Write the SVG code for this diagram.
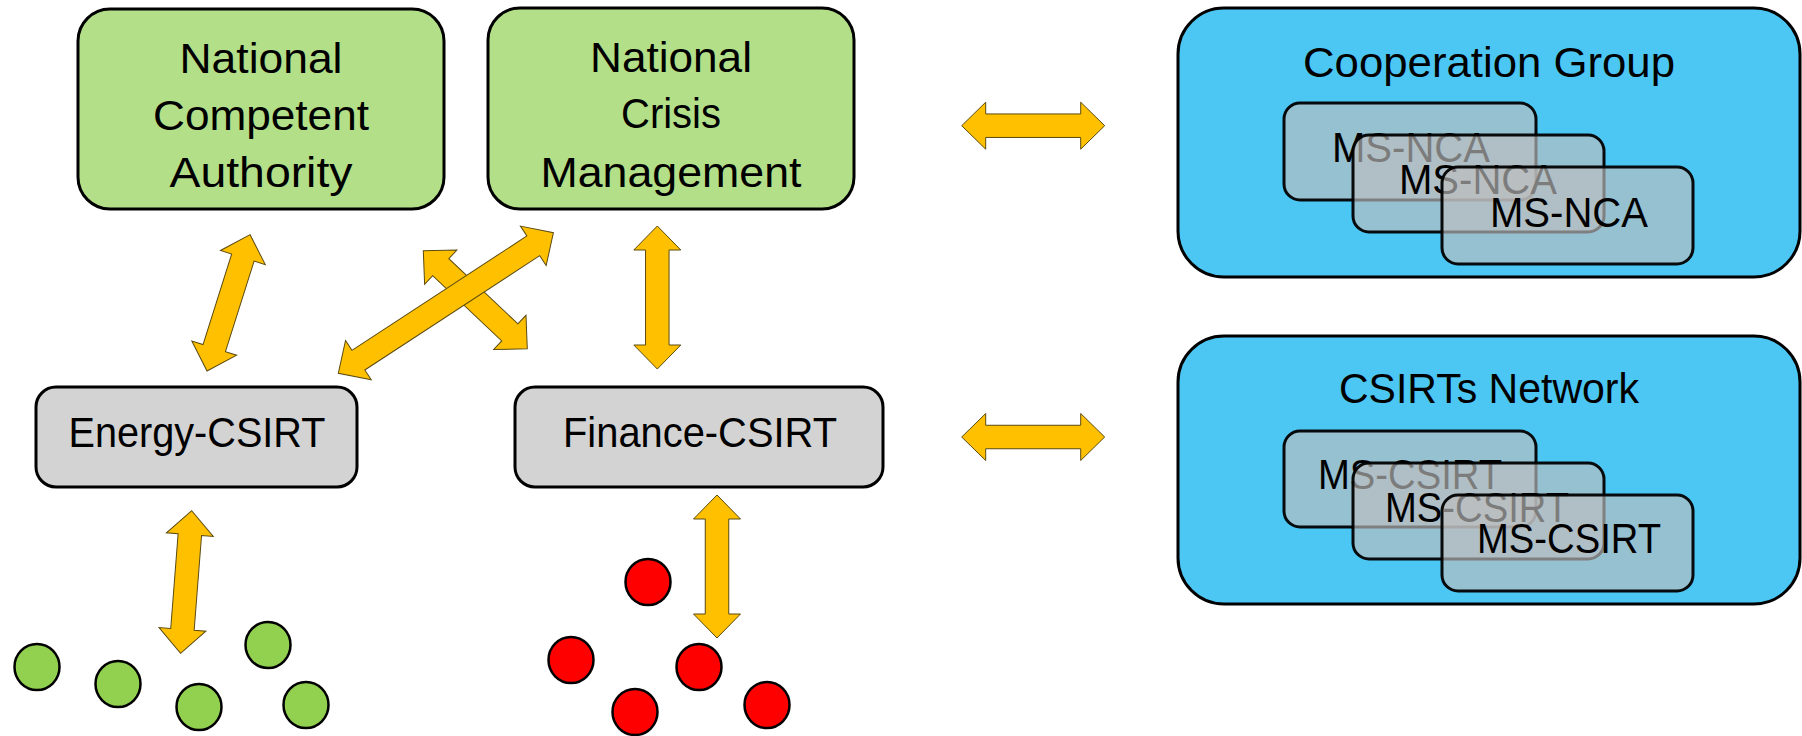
<svg xmlns="http://www.w3.org/2000/svg" width="1802" height="736" viewBox="0 0 1802 736">
<style>
.t{font-family:"Liberation Sans",Arial,sans-serif;font-size:42px;fill:#000;text-anchor:middle}
.green{fill:#B3DF88;stroke:#000;stroke-width:3}
.gray{fill:#D3D3D3;stroke:#000;stroke-width:3}
.blue{fill:#4CC7F4;stroke:#000;stroke-width:3}
.ms{fill:#BFBFBF;fill-opacity:0.65;stroke:#000;stroke-width:3;stroke-opacity:0.95}
.arr{fill:#FFC000;stroke:#5A4A10;stroke-width:1}
.gc{fill:#92D050;stroke:#000;stroke-width:2.5}
.rc{fill:#FF0000;stroke:#000;stroke-width:2.5}
</style>
<defs>
<path id="a143" d="M0,0 L24,-23.5 L24,-11.75 L119,-11.75 L119,-23.5 L143,0 L119,23.5 L119,11.75 L24,11.75 L24,23.5 Z"/>
<path id="a257" d="M0,0 L24,-23.5 L24,-11.75 L233,-11.75 L233,-23.5 L257,0 L233,23.5 L233,11.75 L24,11.75 L24,23.5 Z"/>
</defs>
<rect width="1802" height="736" fill="#fff"/>

<g id="nca">
<rect class="green" x="78" y="9" width="366" height="200" rx="32"/>
<text class="t" x="261" y="73" textLength="163" lengthAdjust="spacingAndGlyphs">National</text>
<text class="t" x="261" y="130" textLength="216" lengthAdjust="spacingAndGlyphs">Competent</text>
<text class="t" x="261" y="187" textLength="183" lengthAdjust="spacingAndGlyphs">Authority</text>
</g>
<g id="ncm">
<rect class="green" x="488" y="8" width="366" height="201" rx="32"/>
<text class="t" x="671" y="72" textLength="162" lengthAdjust="spacingAndGlyphs">National</text>
<text class="t" x="671" y="128" textLength="100" lengthAdjust="spacingAndGlyphs">Crisis</text>
<text class="t" x="671" y="187" textLength="261" lengthAdjust="spacingAndGlyphs">Management</text>
</g>
<g id="energy">
<rect class="gray" x="36" y="387" width="321" height="100" rx="20"/>
<text class="t" x="197" y="447" textLength="257" lengthAdjust="spacingAndGlyphs">Energy-CSIRT</text>
</g>
<g id="finance">
<rect class="gray" x="515" y="387" width="368" height="100" rx="20"/>
<text class="t" x="700" y="447" textLength="274" lengthAdjust="spacingAndGlyphs">Finance-CSIRT</text>
</g>

<g id="cooperation-group">
<rect class="blue" x="1178" y="8" width="622" height="269" rx="46"/>
<text class="t" x="1489" y="77" textLength="372" lengthAdjust="spacingAndGlyphs">Cooperation Group</text>
<g id="msnca1">
<rect class="ms" x="1284" y="103" width="252" height="97" rx="16"/>
<text class="t" x="1411" y="162" textLength="158" lengthAdjust="spacingAndGlyphs">MS-NCA</text>
</g>
<g id="msnca2">
<rect class="ms" x="1353" y="135" width="251" height="97" rx="16"/>
<text class="t" x="1478" y="194" textLength="158" lengthAdjust="spacingAndGlyphs">MS-NCA</text>
</g>
<g id="msnca3">
<rect class="ms" x="1442" y="167" width="251" height="97" rx="16"/>
<text class="t" x="1569" y="227" textLength="158" lengthAdjust="spacingAndGlyphs">MS-NCA</text>
</g>
</g>

<g id="csirts-network">
<rect class="blue" x="1178" y="336" width="622" height="268" rx="46"/>
<text class="t" x="1489" y="403" textLength="300" lengthAdjust="spacingAndGlyphs">CSIRTs Network</text>
<g id="mscsirt1">
<rect class="ms" x="1284" y="431" width="252" height="96" rx="16"/>
<text class="t" x="1410" y="489" textLength="184" lengthAdjust="spacingAndGlyphs">MS-CSIRT</text>
</g>
<g id="mscsirt2">
<rect class="ms" x="1353" y="463" width="251" height="96" rx="16"/>
<text class="t" x="1477" y="522" textLength="184" lengthAdjust="spacingAndGlyphs">MS-CSIRT</text>
</g>
<g id="mscsirt3">
<rect class="ms" x="1442" y="495" width="251" height="96" rx="16"/>
<text class="t" x="1569" y="553" textLength="184" lengthAdjust="spacingAndGlyphs">MS-CSIRT</text>
</g>
</g>

<g id="energy-entities">
<ellipse class="gc" cx="37" cy="667" rx="22.5" ry="23"/>
<ellipse class="gc" cx="118" cy="684" rx="22.5" ry="23"/>
<ellipse class="gc" cx="199" cy="707" rx="22.5" ry="23"/>
<ellipse class="gc" cx="268" cy="645" rx="22.5" ry="23"/>
<ellipse class="gc" cx="306" cy="705" rx="22.5" ry="23"/>
</g>
<g id="finance-entities">
<ellipse class="rc" cx="648" cy="582" rx="22.5" ry="23"/>
<ellipse class="rc" cx="571" cy="660" rx="22.5" ry="23"/>
<ellipse class="rc" cx="699" cy="667" rx="22.5" ry="23"/>
<ellipse class="rc" cx="635" cy="712" rx="22.5" ry="23"/>
<ellipse class="rc" cx="767" cy="705" rx="22.5" ry="23"/>
</g>

<g id="connectors">
<use href="#a143" class="arr" transform="translate(207,371) rotate(-72.45)"/>
<use href="#a143" class="arr" transform="translate(423.3,250.7) rotate(43.35)"/>
<use href="#a257" class="arr" transform="translate(338.3,373.3) rotate(-33.18)"/>
<use href="#a143" class="arr" transform="translate(657.3,226) rotate(90)"/>
<use href="#a143" class="arr" transform="translate(191.7,510.7) rotate(94.46)"/>
<use href="#a143" class="arr" transform="translate(717,495) rotate(90)"/>
<use href="#a143" class="arr" transform="translate(961.7,125.7)"/>
<use href="#a143" class="arr" transform="translate(961.7,437)"/>
</g>
</svg>
